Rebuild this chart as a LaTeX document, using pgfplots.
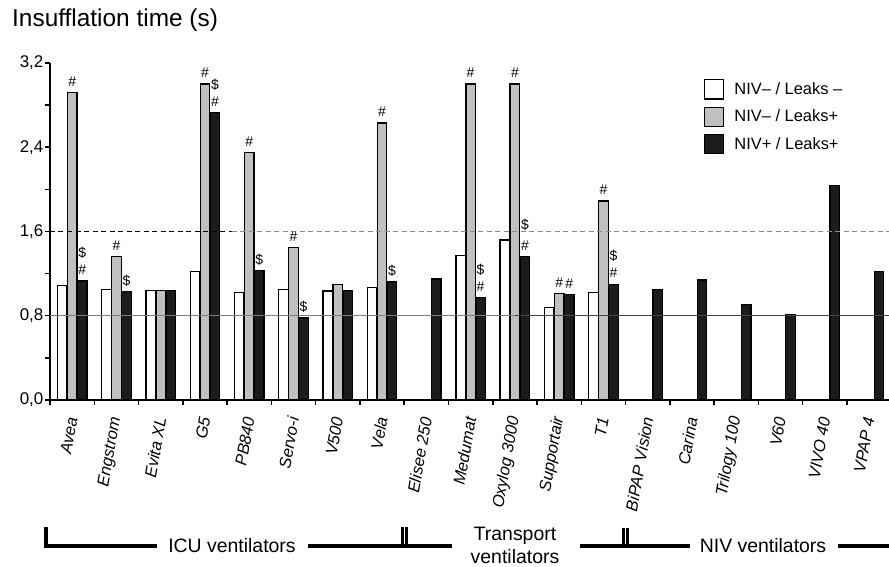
\documentclass[border=0pt]{standalone}
\usepackage{fontspec}
\setmainfont{Liberation Sans}
\usepackage{pgfplots}
\usepackage{pgfplotstable}
\pgfplotsset{compat=1.18}
\definecolor{greybar}{RGB}{192,192,194}
\definecolor{blackbar}{RGB}{28,28,28}
\definecolor{reflineA}{RGB}{90,135,155}
\definecolor{reflineB}{RGB}{95,60,50}
\definecolor{dashB}{RGB}{70,160,210}

\pgfplotstableread{
x white grey black
0 1.09 2.92 1.13
1 1.05 1.36 1.03
2 1.04 1.04 1.04
3 1.22 3.00 2.73
4 1.02 2.35 1.23
5 1.05 1.45 0.78
6 1.035 1.10 1.04
7 1.07 2.63 1.12
8 nan nan 1.15
9 1.37 3.00 0.97
10 1.52 3.00 1.36
11 0.88 1.01 1.00
12 1.02 1.89 1.10
13 nan nan 1.05
14 nan nan 1.14
15 nan nan 0.905
16 nan nan 0.81
17 nan nan 2.035
18 nan nan 1.22
}\datatable

\newcommand\mk[5]{\node[font=\fontsize{14}{14}\selectfont, inner sep=0pt, xshift=#3bp, yshift=#4bp] at (axis cs:#1,#2) {#5};}

\begin{document}
\begin{tikzpicture}
\begin{axis}[
  scale only axis, width=839bp, height=337bp,
  xmin=-0.5, xmax=18.45, ymin=0, ymax=3.2,
  axis x line*=bottom, axis y line*=left,
  axis line style={line width=2bp, black},
  clip=false,
  tick align=outside,
  xtick={0,...,18},
  xticklabels={Avea,Engstrom,Evita XL,G5,PB840,Servo-i,V500,Vela,Elisee 250,Medumat,Oxylog 3000,Supportair,T1,BiPAP Vision,Carina,Trilogy 100,V60,VIVO 40,VPAP 4},
  major x tick style={draw=none},
  minor xtick={-0.5,0.5,...,17.5},
  ytick={0,0.8,1.6,2.4,3.2},
  minor ytick={0.4,1.2,2.0,2.8},
  major tick length=5bp, minor tick length=5bp,
  tick style={black, line width=1.5bp},
  xticklabel style={font=\fontsize{16.5}{16.5}\selectfont\itshape, yshift=-12bp, rotate=80, anchor=east, inner sep=0pt},
  yticklabel style={font=\fontsize{17}{17}\selectfont, inner sep=1.5bp},
  /pgf/number format/assume math mode=true,
  /pgf/number format/fixed,
  /pgf/number format/fixed zerofill,
  /pgf/number format/precision=1,
  /pgf/number format/use comma,
  legend image code/.code={\draw[#1, line width=1.3bp] (0bp,-9.5bp) rectangle (19bp,9.5bp);},
  legend style={draw=none, fill=none, at={(axis cs:14.27,3.048)}, anchor=north west, inner sep=0pt, row sep=7bp, font=\fontsize{16.5}{16.5}\selectfont,
    /tikz/every odd column/.append style={column sep=8bp}},
  legend cell align=left,
]
\addplot[ybar, bar width=9.5bp, bar shift=-10bp, fill=white, draw=black, line width=1.3bp] table[x=x, y=white] {\datatable};
\addlegendentry{NIV-- / Leaks --}
\addplot[ybar, bar width=9.5bp, bar shift=0bp, fill=greybar, draw=black, line width=1.3bp] table[x=x, y=grey] {\datatable};
\addlegendentry{NIV-- / Leaks+}
\addplot[ybar, bar width=9.5bp, bar shift=10bp, fill=blackbar, draw=black, line width=1.3bp] table[x=x, y=black] {\datatable};
\addlegendentry{NIV+ / Leaks+}

\draw[reflineA, line width=1.3bp] (axis cs:-0.5,0.8) -- (axis cs:10,0.8);
\draw[reflineB, line width=1.3bp] (axis cs:10,0.8) -- (axis cs:18.45,0.8);
\draw[black, line width=1.3bp, dash pattern=on 5bp off 3.5bp] (axis cs:-0.5,1.6) -- (axis cs:3.6,1.6);
\draw[dashB, line width=1.3bp, dash pattern=on 5bp off 3.5bp] (axis cs:3.6,1.6) -- (axis cs:18.45,1.6);

% grey-bar marks
\mk{0}{2.92}{0}{11}{\#}
\mk{1}{1.36}{0}{11}{\#}
\mk{3}{3.00}{0}{11}{\#}
\mk{4}{2.35}{0}{11}{\#}
\mk{5}{1.45}{0}{11}{\#}
\mk{7}{2.63}{0}{11}{\#}
\mk{9}{3.00}{0}{11}{\#}
\mk{10}{3.00}{0}{11}{\#}
\mk{11}{1.01}{0}{11}{\#}
\mk{12}{1.89}{0}{11}{\#}
% black-bar marks
\mk{0}{1.13}{10}{11}{\#}
\mk{3}{2.73}{10}{11}{\#}
\mk{9}{0.97}{10}{11}{\#}
\mk{10}{1.36}{10}{11}{\#}
\mk{11}{1.00}{10}{11}{\#}
\mk{12}{1.10}{10}{11}{\#}
\mk{0}{1.13}{10}{28}{\$}
\mk{3}{2.73}{10}{28}{\$}
\mk{9}{0.97}{10}{28}{\$}
\mk{10}{1.36}{10}{32}{\$}
\mk{12}{1.10}{10}{28}{\$}
\mk{1}{1.03}{10}{11}{\$}
\mk{4}{1.23}{10}{11}{\$}
\mk{5}{0.78}{10}{11}{\$}
\mk{7}{1.12}{10}{11}{\$}

\coordinate (O) at (axis cs:-0.5,0);
\end{axis}
\begin{scope}[shift={(O)}]
\begin{scope}[x=1bp, y=-1bp, shift={(-50,-400)}]
\node[anchor=base west, inner sep=0pt, font=\fontsize{24.5}{26}\selectfont] at (12,27) {Insufflation time (s)};
\begin{scope}[line width=3.5bp, black]
\draw[line join=miter] (46,527) -- (46,546) -- (157,546);
\draw (308,546) -- (452,546);
\draw[line width=3bp] (402,527) -- (402,546);
\draw[line width=3bp] (406.5,527) -- (406.5,546);
\draw (580,546) -- (690,546);
\draw[line width=3bp] (623.5,528) -- (623.5,546);
\draw[line width=3bp] (627.5,528) -- (627.5,546);
\draw (838,546) -- (895,546);
\end{scope}
\begin{scope}[every node/.style={font=\fontsize{19.5}{19.5}\selectfont, inner sep=0pt}]
\node at (232,546) {ICU ventilators};
\node[anchor=base] at (515,541) {Transport};
\node[anchor=base] at (515,564) {ventilators};
\node at (763,546) {NIV ventilators};
\end{scope}
\pgfresetboundingbox
\path[use as bounding box] (0,0) rectangle (889,567);
\end{scope}
\end{scope}
\end{tikzpicture}
\end{document}
